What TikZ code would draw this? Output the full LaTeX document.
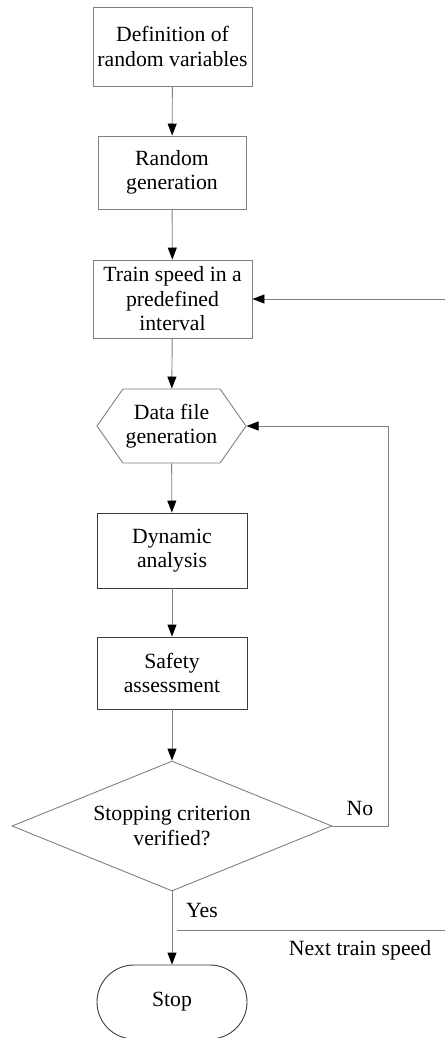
\documentclass[tikz,border=0pt]{standalone}
\usepackage{fontspec}
\setmainfont{Liberation Serif}
\usetikzlibrary{shapes.geometric,shapes.symbols,shapes.misc,arrows.meta}
\definecolor{lineGray}{RGB}{128,128,128}
\definecolor{boxDark}{RGB}{60,60,60}

\tikzset{
  stepbox/.style={draw=lineGray,line width=0.9pt,align=center,inner sep=0pt,
    font=\fontsize{21.7}{24.5}\selectfont},
  darkbox/.style={stepbox,draw=boxDark},
  flow/.style={draw=lineGray,line width=0.9pt,-{Triangle[length=12pt,width=9pt,color=black]}},
  plainline/.style={draw=lineGray,line width=0.9pt},
  lbl/.style={font=\fontsize{21.7}{24.5}\selectfont,inner sep=0pt}
}

\begin{document}
\begin{tikzpicture}[x=1pt,y=-1pt]
            \useasboundingbox (0,0) rectangle (445,1038);
            % Input
            \node[stepbox,minimum width=159pt,minimum height=79pt] (def) at (172.5,46.5) {Definition of\\random variables};
            \node[stepbox,minimum width=148pt,minimum height=73pt] (rgen) at (172,172.5) {Random\\generation};
            \node[stepbox,minimum width=159pt,minimum height=78pt] (speed) at (172.5,299) {Train speed in a\\predefined\\interval};
            
            % Analysis
            \node[stepbox,shape=signal,signal to=west and east,signal pointer angle=110,minimum width=149pt,minimum height=74pt] (datafile) at (171.5,426) {Data file\\generation};
            \node[darkbox,minimum width=150pt,minimum height=75pt] (dyn) at (172,550.5) {Dynamic\\analysis};
            \node[darkbox,minimum width=150pt,minimum height=72pt] (safety) at (172,673) {Safety\\assessment};
            
            % Decision
            \node[stepbox,shape=diamond,aspect=2.46,minimum width=320pt,minimum height=130pt] (crit) at (172,826) {Stopping criterion\\verified?};
            \node[stepbox,draw=boxDark,shape=rounded rectangle,minimum width=150pt,minimum height=74pt] (stop) at (172,1002) {Stop};
            
            % Free ends
            \coordinate (nextin) at (445,299);
            \coordinate (nexta) at (177,930);
            \coordinate (nextb) at (445,930);
            
            % Labels
            \node[lbl] (no) at (360,808) {No};
            \node[lbl] (yes) at (202,910) {Yes};
            \node[lbl] (nextlbl) at (360,950) {Next train speed};
            
            \draw[flow] (def) -- (rgen);
            \draw[flow] (rgen) -- (speed);
            \draw[flow] (speed) -- (datafile);
            \draw[flow] (datafile) -- (dyn);
            \draw[flow] (dyn) -- (safety);
            \draw[flow] (safety) -- (crit.north);
            \draw[flow] (crit.south) -- (stop.north);
            \draw[flow] (crit.east) -- ++(56,0) |- (datafile.east);
            \draw[flow] (nextin) -- (speed.east);
            \draw[plainline] (nexta) -- (nextb);
        \end{tikzpicture}
\end{document}
